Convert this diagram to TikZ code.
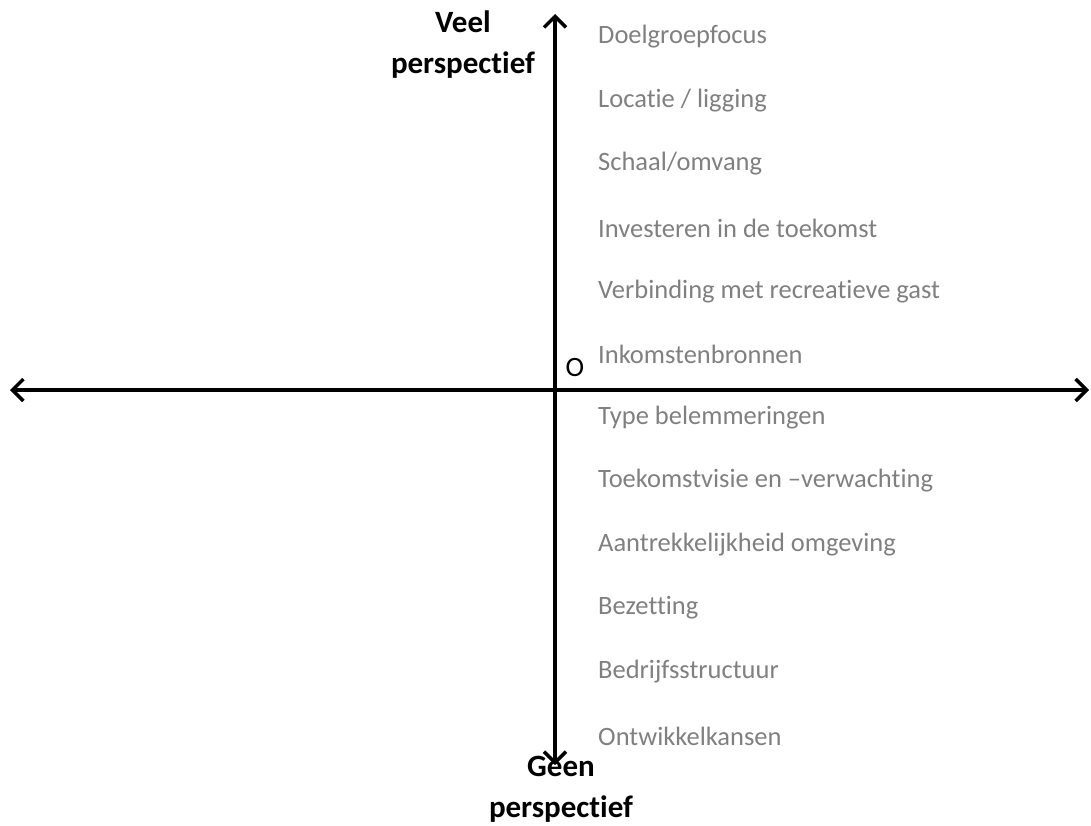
\documentclass[tikz,border=0pt]{standalone}
\usepackage{fontspec}
\setmainfont{Carlito}[Ligatures=NoCommon]
\usetikzlibrary{arrows.meta,positioning}

\begin{document}
\begin{tikzpicture}[
    x=1pt, y=-1pt,
    item/.style={anchor=west, inner sep=0pt, font=\fontsize{26.5}{30}\selectfont, text=black!50},
    axlabel/.style={align=center, inner sep=0pt, font=\fontsize{31}{41}\selectfont\bfseries, text=black},
    axis/.style={{Straight Barb[length=11pt, width=22pt, line width=3.5pt]}-{Straight Barb[length=11pt, width=22pt, line width=3.5pt]}, line width=3.5pt, black},
]
\useasboundingbox (0,0) rectangle (1091,825);
% axes
\coordinate (top) at (555,14);
\coordinate (bottom) at (555,765);
\coordinate (left) at (10,390);
\coordinate (right) at (1089,390);
\draw[axis] (bottom) -- (top);
\draw[axis] (left) -- (right);

\node[inner sep=0pt, font=\fontsize{28}{32}\selectfont] (origin) at (575,368) {O};

\node[axlabel] (veel) at (463,45) {Veel\\perspectief};
\node[axlabel] (geen) at (561,789) {Geen\\perspectief};

% factoren
\node[item] (doel) at (598,37) {Doelgroepfocus};
\node[item] (loc) at (598,101) {Locatie / ligging};
\node[item] (schaal) at (598,164) {Schaal/omvang};
\node[item] (invest) at (598,228) {Investeren in de toekomst};
\node[item] (verb) at (598,292) {Verbinding met recreatieve gast};
\node[item] (inkomst) at (598,354) {Inkomstenbronnen};
\node[item] (type) at (598,418) {Type belemmeringen};
\node[item] (visie) at (598,481) {Toekomstvisie en –verwachting};
\node[item] (omgev) at (598,545) {Aantrekkelijkheid omgeving};
\node[item] (bez) at (598,608) {Bezetting};
\node[item] (bedr) at (598,672) {Bedrijfsstructuur};
\node[item] (kans) at (598,736) {Ontwikkelkansen};
\end{tikzpicture}
\end{document}
